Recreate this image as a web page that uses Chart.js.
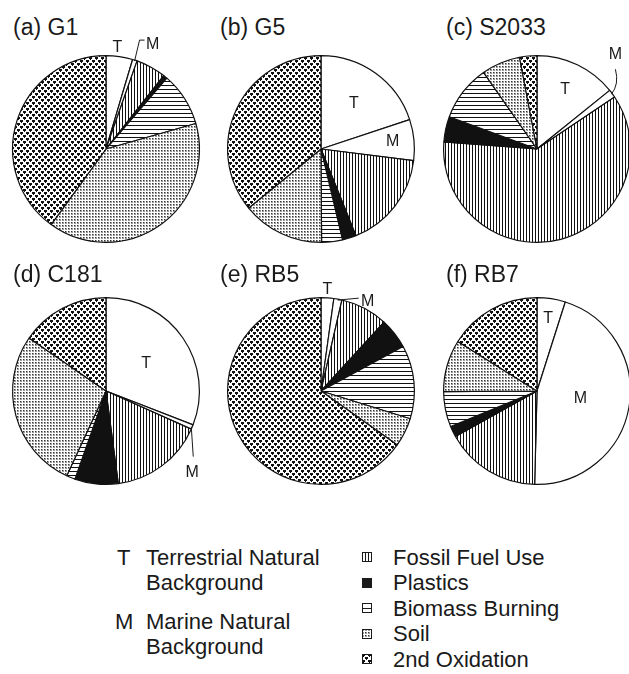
<!DOCTYPE html>
<html>
<head>
<meta charset="utf-8">
<script src="https://cdn.jsdelivr.net/npm/chart.js@4/dist/chart.umd.min.js"></script>
<style>
  html, body { margin: 0; padding: 0; background: #fff; }
  #page { position: relative; width: 629px; height: 674px; overflow: hidden;
          font-family: "Liberation Sans", Arial, Helvetica, sans-serif; color: #1a1a1a; }
  .title { position: absolute; font-size: 23px; line-height: 26px; white-space: nowrap; }
  .pie { position: absolute; }
  .leg { position: absolute; font-size: 22px; line-height: 25px; white-space: nowrap; }
  .icon { position: absolute; }
</style>
</head>
<body>
<div id="page"></div>
<script>
// ---- data ---------------------------------------------------------------
const panelTags   = ['(a)', '(b)', '(c)', '(d)', '(e)', '(f)'];
const sampleNames = ['G1', 'G5', 'S2033', 'C181', 'RB5', 'RB7'];
const sourceNames = ['Terrestrial Natural Background', 'Marine Natural Background',
                     'Fossil Fuel Use', 'Plastics', 'Biomass Burning', 'Soil', '2nd Oxidation'];
const sourceCodes = ['T', 'M'];

// source contributions (%) in the order of sourceNames
const g1    = [4.6, 0.8, 5.2, 0.7, 9.3, 39.4, 40.0];
const g5    = [19.9, 7.1, 16.9, 2.4, 3.6, 14.2, 35.9];
const s2033 = [14.2, 1.4, 60.6, 4.4, 9.7, 6.7, 3.0];
const c181  = [30.9, 0.8, 16.2, 7.5, 1.5, 27.7, 15.4];
const rb5   = [2.2, 1.4, 8.2, 5.3, 12.7, 5.0, 65.2];
const rb7   = [4.9, 45.5, 16.5, 1.9, 6.1, 9.0, 16.1];
const sampleValues = [g1, g5, s2033, c181, rb5, rb7];

// ---- layout -------------------------------------------------------------
const colX = [106, 321, 537];
const rowY = [149, 391];
const titleX = [13, 220, 446];
const titleY = [27, 274];
const PIE = 188;              // diameter of the plot area
const CW = 214, CH = 232;     // canvas size around each pie

const page = document.getElementById('page');

// ---- hatch fills --------------------------------------------------------
function tile(w, h, draw) {
  const c = document.createElement('canvas');
  c.width = w; c.height = h;
  const g = c.getContext('2d');
  g.fillStyle = '#fff'; g.fillRect(0, 0, w, h);
  draw(g);
  return c;
}
const tiles = {
  vertical: tile(3, 3, g => { g.fillStyle = '#111'; g.fillRect(0, 0, 1, 3); }),
  horizontal: tile(4, 4, g => { g.fillStyle = '#111'; g.fillRect(0, 0, 4, 1); }),
  fineDots: tile(3, 3, g => {
    g.fillStyle = '#9a9a9a'; g.fillRect(0, 0, 2, 2);
    g.fillStyle = '#333'; g.fillRect(0, 0, 1, 1);
  }),
  coarseDots: tile(6, 6, g => {
    g.fillStyle = '#111';
    // two staggered blobs per tile
    g.fillRect(0, 0, 3, 2); g.fillRect(1, 2, 1, 1);
    g.fillRect(3, 3, 3, 2); g.fillRect(4, 5, 1, 1);
  })
};
function fillsFor(ctx) {
  return [
    '#ffffff',
    '#ffffff',
    ctx.createPattern(tiles.vertical, 'repeat'),
    '#111111',
    ctx.createPattern(tiles.horizontal, 'repeat'),
    ctx.createPattern(tiles.fineDots, 'repeat'),
    ctx.createPattern(tiles.coarseDots, 'repeat')
  ];
}

// ---- slice tag plugin (T / M letters, with leader lines where needed) ----
const sliceTags = {
  id: 'sliceTags',
  afterDatasetsDraw(chart, args, opts) {
    const g = chart.ctx;
    const arcs = chart.getDatasetMeta(0).data;
    g.save();
    g.font = '16px "Liberation Sans", Arial, Helvetica, sans-serif';
    g.fillStyle = '#1a1a1a';
    g.strokeStyle = '#1a1a1a';
    g.lineWidth = 1;
    g.textAlign = 'center';
    g.textBaseline = 'middle';
    (opts.tags || []).forEach(t => {
      const a = arcs[t.index];
      const p = a.getProps(['x', 'y', 'startAngle', 'endAngle', 'outerRadius'], true);
      const mid = (p.startAngle + p.endAngle) / 2;
      const text = sourceCodes[t.index];
      if (t.inside !== undefined) {
        const d = p.outerRadius * t.inside;
        g.fillText(text, p.x + Math.cos(mid) * d, p.y + Math.sin(mid) * d);
        return;
      }
      // anchor on the rim of the slice
      const ex = p.x + Math.cos(mid) * (p.outerRadius - 1);
      const ey = p.y + Math.sin(mid) * (p.outerRadius - 1);
      if (t.leader) {
        g.beginPath();
        g.moveTo(ex, ey);
        if (t.curve) {
          g.quadraticCurveTo(ex + t.curve[0], ey + t.curve[1], ex + t.leader[0][0], ey + t.leader[0][1]);
        } else {
          t.leader.forEach(q => g.lineTo(ex + q[0], ey + q[1]));
        }
        g.stroke();
      }
      g.fillText(text, ex + t.at[0], ey + t.at[1]);
    });
    g.restore();
  }
};

const tagSpecs = [
  [{ index: 0, at: [-2, -10] },
   { index: 1, leader: [[5, -21], [10, -21]], at: [18, -17] }],
  [{ index: 0, inside: 0.6 }, { index: 1, inside: 0.77 }],
  [{ index: 0, inside: 0.7 },
   { index: 1, leader: [[4, -25]], curve: [8, -10], at: [4, -40] }],
  [{ index: 0, inside: 0.52 },
   { index: 1, leader: [[2, 30]], at: [1, 46] }],
  [{ index: 0, at: [0, -9] },
   { index: 1, leader: [[21, -2]], at: [30, 1] }],
  [{ index: 0, inside: 0.78 }, { index: 1, inside: 0.47 }]
];

// ---- panels -------------------------------------------------------------
sampleNames.forEach((name, k) => {
  const col = k % 3, row = Math.floor(k / 3);
  const cx = colX[col], cy = rowY[row];

  const t = document.createElement('div');
  t.className = 'title';
  t.textContent = panelTags[k] + ' ' + name;
  t.style.left = titleX[col] + 'px';
  t.style.top = (titleY[row] - 13) + 'px';
  page.appendChild(t);

  const cv = document.createElement('canvas');
  cv.className = 'pie';
  cv.width = CW; cv.height = CH;
  cv.style.left = (cx - CW / 2) + 'px';
  cv.style.top = (cy - CH / 2) + 'px';
  page.appendChild(cv);
  const ctx = cv.getContext('2d');

  const padX = (CW - PIE) / 2, padY = (CH - PIE) / 2;
  new Chart(ctx, {
    type: 'pie',
    data: {
      labels: sourceNames,
      datasets: [{
        data: sampleValues[k],
        backgroundColor: fillsFor(ctx),
        borderColor: '#111',
        borderWidth: 1.2,
        hoverOffset: 0
      }]
    },
    options: {
      responsive: false,
      animation: false,
      events: [],
      rotation: 0,
      layout: { padding: { left: padX, right: padX, top: padY, bottom: padY } },
      plugins: {
        legend: { display: false },
        tooltip: { enabled: false },
        sliceTags: { tags: tagSpecs[k] }
      }
    },
    plugins: [sliceTags]
  });
});

// ---- key ----------------------------------------------------------------
function addText(html, x, cyLine) {
  const d = document.createElement('div');
  d.className = 'leg';
  d.innerHTML = html;
  d.style.left = x + 'px';
  d.style.top = (cyLine - 12.5) + 'px';
  page.appendChild(d);
}
addText('T', 117, 557);
addText(sourceNames[0].replace(' Background', '<br>Background'), 146, 557);
addText('M', 115, 621);
addText(sourceNames[1].replace(' Background', '<br>Background'), 146, 621);

const keyRows = [557, 582.5, 608, 633.5, 659];
const keyIcons = [
  g => { g.strokeRect(0.5, 0.5, 9, 9); g.beginPath(); g.moveTo(3.5, 0); g.lineTo(3.5, 10); g.moveTo(6.5, 0); g.lineTo(6.5, 10); g.stroke(); },
  g => { g.fillRect(0, 0, 10, 10); },
  g => { g.strokeRect(0.5, 0.5, 9, 9); g.beginPath(); g.moveTo(0, 5.5); g.lineTo(10, 5.5); g.stroke(); },
  g => { g.fillStyle = g.createPattern(tiles.fineDots, 'repeat'); g.fillRect(0, 0, 10, 10); g.strokeRect(0.5, 0.5, 9, 9); },
  g => { g.fillStyle = g.createPattern(tiles.coarseDots, 'repeat'); g.fillRect(0, 0, 10, 10); g.strokeRect(0.5, 0.5, 9, 9); }
];
sourceNames.slice(2).forEach((label, i) => {
  const c = document.createElement('canvas');
  c.className = 'icon';
  c.width = 10; c.height = 10;
  c.style.left = '362px';
  c.style.top = (keyRows[i] - 5) + 'px';
  const g = c.getContext('2d');
  g.strokeStyle = '#1a1a1a'; g.fillStyle = '#1a1a1a'; g.lineWidth = 1;
  keyIcons[i](g);
  page.appendChild(c);
  addText(label, 393, keyRows[i]);
});
</script>
</body>
</html>
